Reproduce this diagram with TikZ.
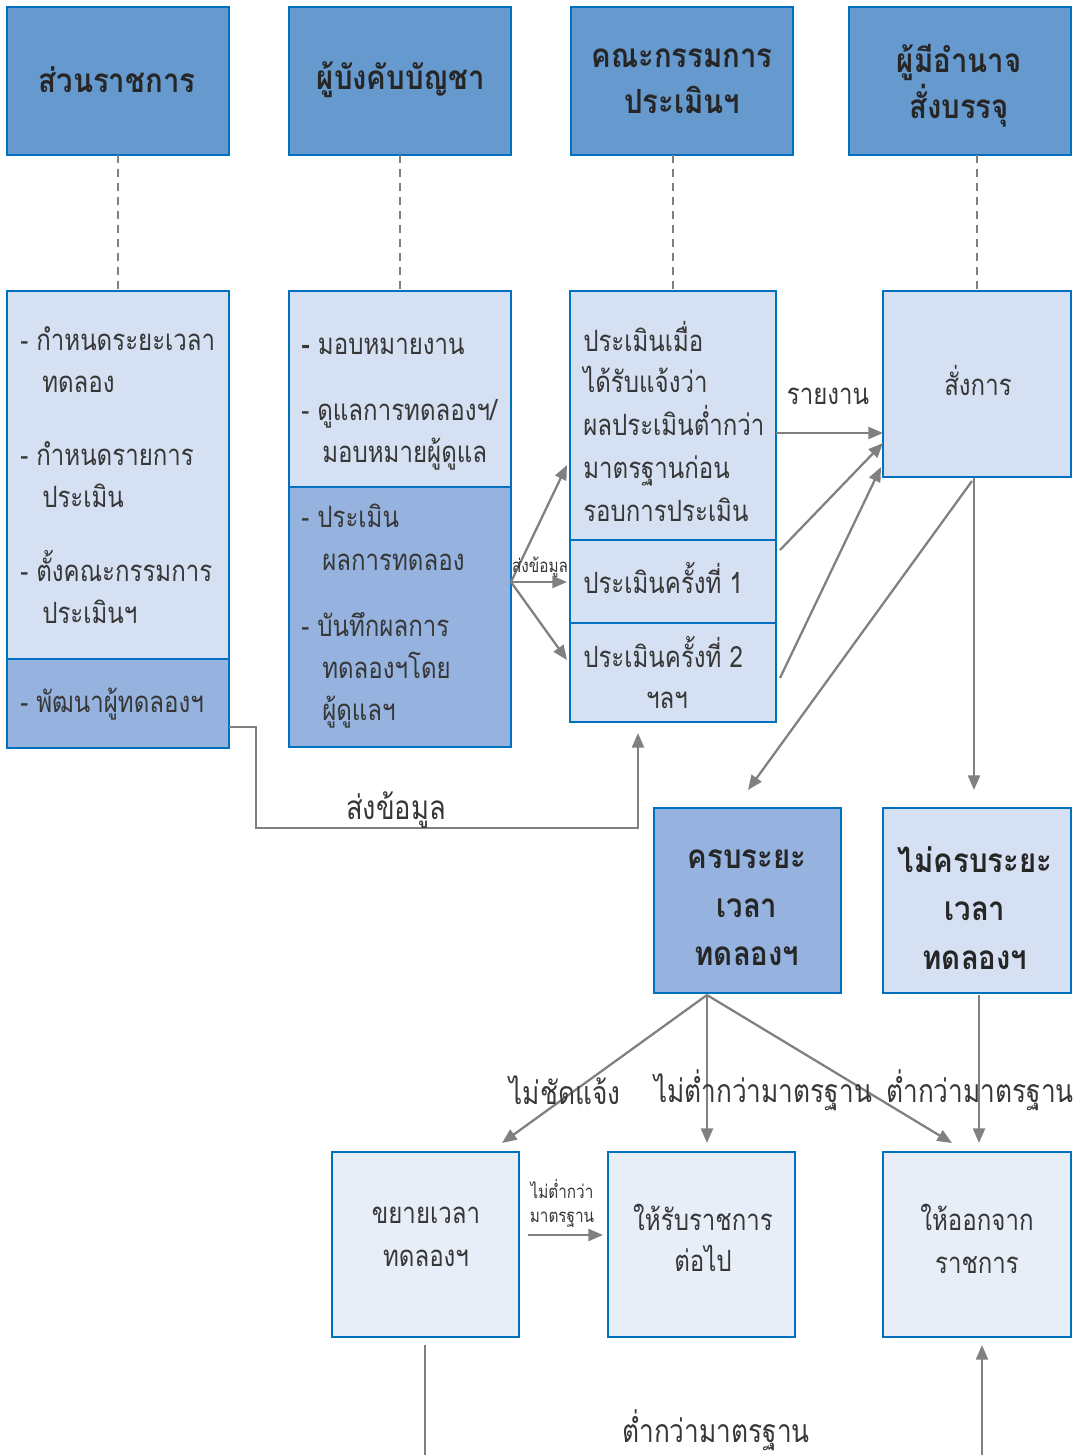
\documentclass[tikz,border=0pt]{standalone}
\usepackage{fontspec}
\setmainfont[Script=Thai, FakeStretch=0.82, BoldFeatures={FakeStretch=0.88}]{Loma}
\usetikzlibrary{arrows.meta,calc}
\definecolor{hdr}{RGB}{102,153,206}
\definecolor{bord}{RGB}{0,112,192}
\definecolor{light}{RGB}{213,225,242}
\definecolor{dark}{RGB}{149,179,222}
\definecolor{paler}{RGB}{232,238,248}
\definecolor{agray}{RGB}{128,128,128}
\definecolor{tcol}{RGB}{55,55,55}
\begin{document}
\begin{tikzpicture}[x=0.75pt,y=-0.75pt,
  box/.style={draw=bord, line width=1.9pt, inner sep=0pt, outer sep=0pt},
  hdrbox/.style={box, fill=hdr},
  lt/.style={box, fill=light},
  dk/.style={box, fill=dark},
  xl/.style={box, fill=paler},
  txt/.style={text=tcol, font=\fontsize{22}{26}\selectfont, inner sep=0pt},
  ltxt/.style={txt, anchor=base west},
  lbl/.style={text=tcol, font=\fontsize{24}{28}\selectfont, inner sep=0pt},
  btxt/.style={text=black!85, font=\fontsize{25}{36}\selectfont\bfseries, inner sep=0pt, align=center},
  small/.style={text=tcol, font=\fontsize{14}{18}\selectfont, inner sep=0pt},
  conn/.style={draw=agray, line width=1.7pt, -{Triangle[length=11pt,width=9pt]}},
  plain/.style={draw=agray, line width=1.7pt},
  life/.style={draw=agray, line width=1.3pt, dash pattern=on 6pt off 4.5pt}]
\useasboundingbox (0,0) rectangle (1084,1455);

% headers
\node[hdrbox, minimum width=222*0.75pt, minimum height=148*0.75pt] (h1) at (118,81) {};
\node[hdrbox, minimum width=222*0.75pt, minimum height=148*0.75pt] (h2) at (400,81) {};
\node[hdrbox, minimum width=222*0.75pt, minimum height=148*0.75pt] (h3) at (682,81) {};
\node[hdrbox, minimum width=222*0.75pt, minimum height=148*0.75pt] (h4) at (960,81) {};

% row 2
\node[lt, minimum width=222*0.75pt, minimum height=368*0.75pt] (b1a) at (118,475) {};
\node[dk, minimum width=222*0.75pt, minimum height=89*0.75pt] (b1b) at (118,703.5) {};
\node[lt, minimum width=222*0.75pt, minimum height=196*0.75pt] (b2a) at (400,389) {};
\node[dk, minimum width=222*0.75pt, minimum height=260*0.75pt] (b2b) at (400,617) {};
\node[lt, minimum width=206*0.75pt, minimum height=249*0.75pt] (b3a) at (673,415.5) {};
\node[lt, minimum width=206*0.75pt, minimum height=83*0.75pt] (b3b) at (673,581.5) {};
\node[lt, minimum width=206*0.75pt, minimum height=99*0.75pt] (b3c) at (673,672.5) {};
\node[lt, minimum width=188*0.75pt, minimum height=186*0.75pt] (b4) at (977,384) {};

% row 3
\node[dk, minimum width=187*0.75pt, minimum height=185*0.75pt] (c1) at (747.5,900.5) {};
\node[lt, minimum width=188*0.75pt, minimum height=185*0.75pt] (c2) at (977,900.5) {};

% row 4
\node[xl, minimum width=187*0.75pt, minimum height=185*0.75pt] (d1) at (425.5,1244.5) {};
\node[xl, minimum width=187*0.75pt, minimum height=185*0.75pt] (d2) at (701.5,1244.5) {};
\node[xl, minimum width=188*0.75pt, minimum height=185*0.75pt] (d3) at (977,1244.5) {};

% lifelines
\draw[life] (b1a.north |- h1.south) -- (b1a.north);
\draw[life] (b2a.north |- h2.south) -- (b2a.north);
\draw[life] (b3a.north |- h3.south) -- (b3a.north);
\draw[life] (b4.north |- h4.south) -- (b4.north);

% coordinates for connectors
\coordinate (s1) at (511,582);
\coordinate (e1) at (567,465);
\coordinate (e2) at (567,582);
\coordinate (e3) at (567,660);
\coordinate (r1) at (780,550);
\coordinate (r1e) at (883,443);
\coordinate (r2) at (780,678);
\coordinate (r2e) at (881,467);
\coordinate (q1) at (972,481);
\coordinate (q1e) at (748,790);
\coordinate (q2) at (974,478);
\coordinate (q2e) at (974,790);
\coordinate (p1) at (229,727);
\coordinate (p2) at (638,733);
\coordinate (k0) at (707,995);
\coordinate (k1) at (502,1143);
\coordinate (k2) at (707,1143);
\coordinate (k3) at (952,1143);
\coordinate (m0) at (979,995);
\coordinate (m1) at (979,1143);
\coordinate (n0) at (528,1235);
\coordinate (n1) at (603,1235);
\coordinate (u0) at (425,1345);
\coordinate (u1) at (425,1455);
\coordinate (v0) at (982,1455);
\coordinate (v1) at (982,1345);

% connectors
\draw[conn] (s1) -- (e1);
\draw[conn] (s1) -- (e2);
\draw[conn] (s1) -- (e3);
\draw[conn] (b3a.east |- 0,433) -- (b4.west |- 0,433);
\draw[conn] (r1) -- (r1e);
\draw[conn] (r2) -- (r2e);
\draw[conn] (q1) -- (q1e);
\draw[conn] (q2) -- (q2e);
\draw[conn] (p1) -- (256,727) -- (256,828) -- (638,828) -- (p2);
\draw[conn] (k0) -- (k1);
\draw[conn] (k0) -- (k2);
\draw[conn] (k0) -- (k3);
\draw[conn] (m0) -- (m1);
\draw[conn] (n0) -- (n1);
\draw[plain] (u0) -- (u1);
\draw[conn] (v0) -- (v1);

% header texts
\node[btxt] (th1) at (117,80) {ส่วนราชการ};
\node[btxt] (th2) at (401,80) {ผู้บังคับบัญชา};
\node[btxt, font=\fontsize{25}{34.5}\selectfont\bfseries] (th3) at (682,81) {คณะกรรมการ\\ประเมินฯ};
\node[btxt, font=\fontsize{25}{34.5}\selectfont\bfseries] (th4) at (959,86) {ผู้มีอำนาจ\\สั่งบรรจุ};

% B1 texts (baselines)
\node[ltxt] (t11) at (20,350) {- กำหนดระยะเวลา};
\node[ltxt] (t12) at (42,392) {ทดลอง};
\node[ltxt] (t13) at (20,465) {- กำหนดรายการ};
\node[ltxt] (t14) at (42,507) {ประเมิน};
\node[ltxt] (t15) at (20,581) {- ตั้งคณะกรรมการ};
\node[ltxt] (t16) at (42,623) {ประเมินฯ};
\node[ltxt] (t17) at (20,712) {- พัฒนาผู้ทดลองฯ};

% B2 texts
\node[ltxt] (t21) at (301,354) {\textbf{-} มอบหมายงาน};
\node[ltxt] (t22) at (301,420) {- ดูแลการทดลองฯ/};
\node[ltxt] (t23) at (322,462) {มอบหมายผู้ดูแล};
\node[ltxt] (t24) at (301,527) {- ประเมิน};
\node[ltxt] (t25) at (322,570) {ผลการทดลอง};
\node[ltxt] (t26) at (301,636) {- บันทึกผลการ};
\node[ltxt] (t27) at (322,678) {ทดลองฯโดย};
\node[ltxt] (t28) at (322,720) {ผู้ดูแลฯ};

% B3 texts
\node[ltxt] (t31) at (583,351) {ประเมินเมื่อ};
\node[ltxt] (t32) at (583,392) {ได้รับแจ้งว่า};
\node[ltxt] (t33) at (583,435) {ผลประเมินต่ำกว่า};
\node[ltxt] (t34) at (583,478) {มาตรฐานก่อน};
\node[ltxt] (t35) at (583,521) {รอบการประเมิน};
\node[ltxt] (t36) at (583,593) {ประเมินครั้งที่ 1};
\node[ltxt] (t37) at (583,667) {ประเมินครั้งที่ 2};
\node[txt, anchor=base] (t38) at (667,708) {ฯลฯ};

% B4 text
\node[txt, anchor=base] (t41) at (978,395) {สั่งการ};

% row 3 texts
\node[btxt, font=\fontsize{25}{36.4}\selectfont\bfseries] (tc1) at (747,908) {ครบระยะ\\เวลา\\ทดลองฯ};
\node[btxt, font=\fontsize{25}{36.4}\selectfont\bfseries] (tc2) at (975,908) {ไม่ครบระยะ\\เวลา\\ทดลองฯ};

% row 4 texts
\node[txt, align=center, font=\fontsize{22}{32.3}\selectfont] (td1) at (426,1237) {ขยายเวลา\\ทดลองฯ};
\node[txt, align=center, font=\fontsize{22}{31}\selectfont] (td2) at (703,1238) {ให้รับราชการ\\ต่อไป};
\node[txt, align=center, font=\fontsize{22}{32.3}\selectfont] (td3) at (977,1239) {ให้ออกจาก\\ราชการ};

% labels
\node[small] (l1) at (540,567) {ส่งข้อมูล};
\node[txt] (l2) at (828,396) {รายงาน};
\node[lbl, font=\fontsize{25}{28}\selectfont] (l3) at (396,810) {ส่งข้อมูล};
\node[lbl] (l4) at (565,1090) {ไม่ชัดแจ้ง};
\node[lbl] (l5) at (763,1090) {ไม่ต่ำกว่ามาตรฐาน};
\node[lbl] (l6) at (980,1090) {ต่ำกว่ามาตรฐาน};
\node[small, align=center, font=\fontsize{14}{18}\selectfont] (l7) at (562,1203) {ไม่ต่ำกว่า\\มาตรฐาน};
\node[lbl] (l8) at (716,1430) {ต่ำกว่ามาตรฐาน};
\end{tikzpicture}
\end{document}
